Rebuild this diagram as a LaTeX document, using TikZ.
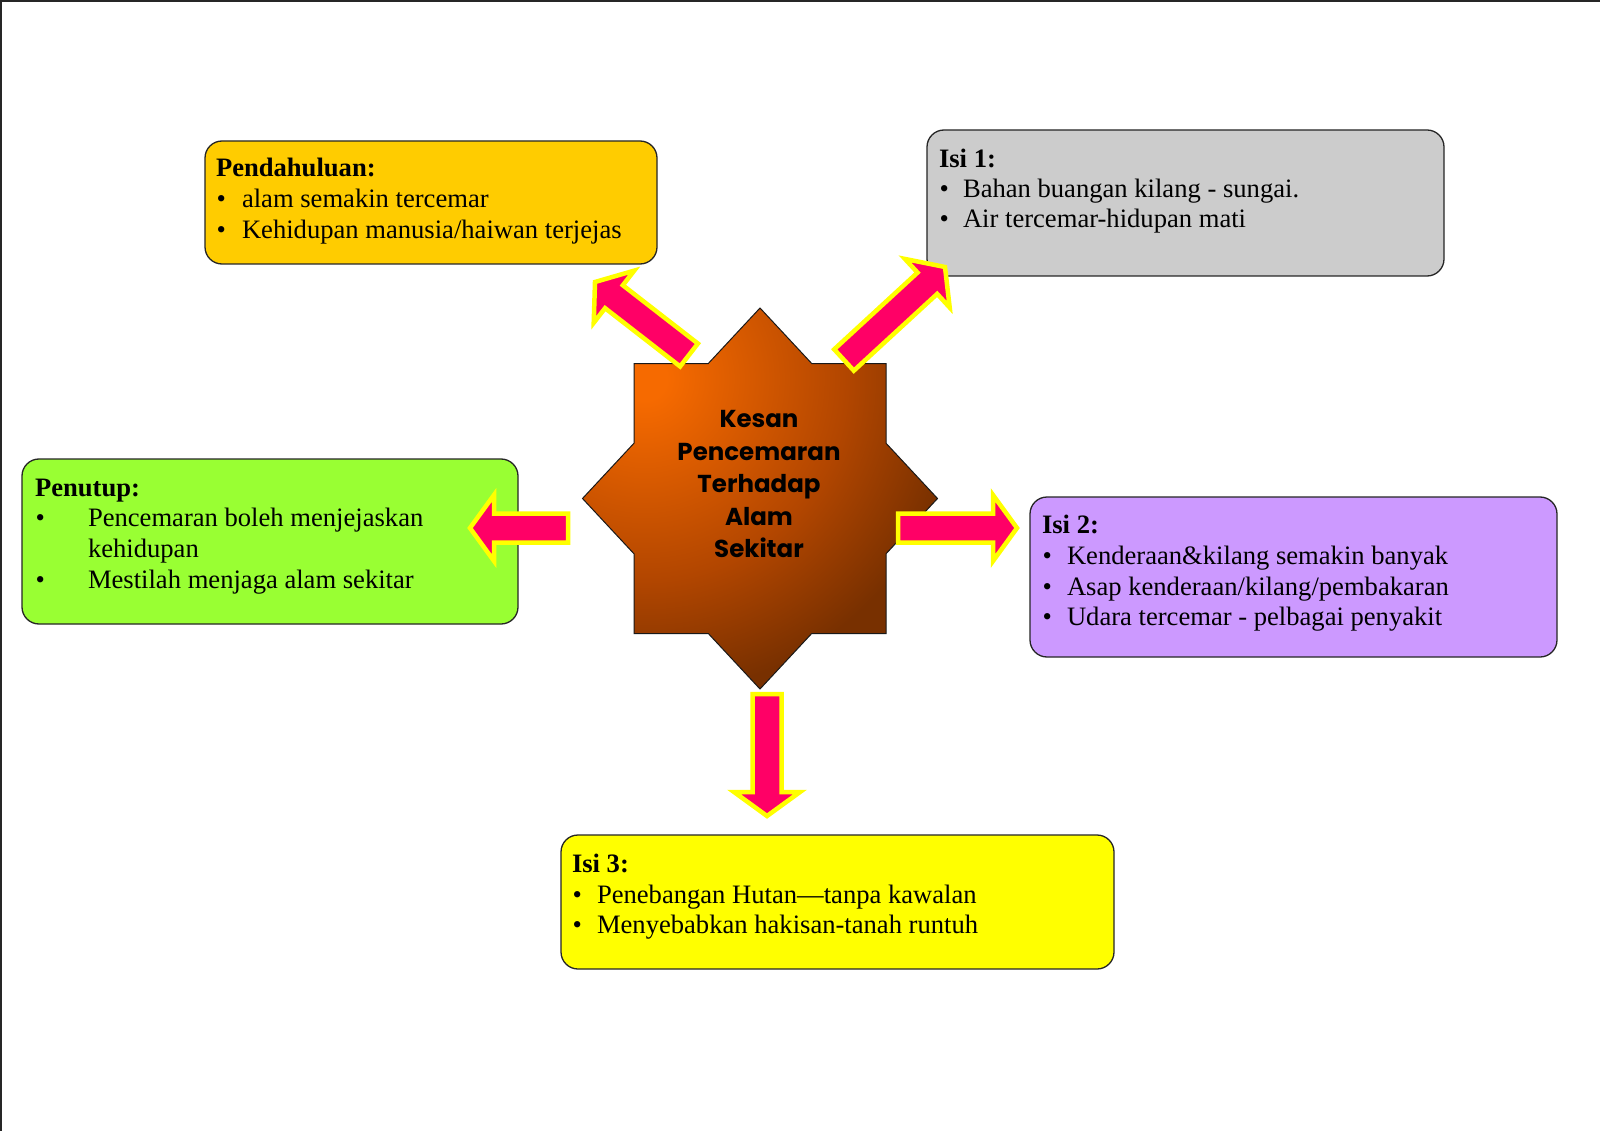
\documentclass[tikz,border=0pt]{standalone}
\usepackage{fontspec}
\setmainfont{Liberation Serif}
\newfontfamily\gothic{Poppins}
\usetikzlibrary{calc}
\definecolor{starA}{RGB}{246,106,0}
\definecolor{starM}{RGB}{178,70,0}
\definecolor{starB}{RGB}{120,48,0}
\definecolor{arrowpink}{RGB}{255,0,102}
\definecolor{arrowedge}{RGB}{255,255,0}
\definecolor{boxPend}{RGB}{255,204,0}
\definecolor{boxIsiA}{RGB}{204,204,204}
\definecolor{boxIsiB}{RGB}{204,153,255}
\definecolor{boxPen}{RGB}{153,255,51}
\definecolor{boxIsiC}{RGB}{255,255,0}
\pgfdeclareradialshading{starshade}{\pgfpointorigin}{color(0bp)=(starA); color(1.5bp)=(starA); color(14bp)=(starM); color(22bp)=(starB); color(50bp)=(starB)}
\tikzset{
  boxnode/.style={draw=black!85, line width=1.3pt, rounded corners=17pt, anchor=north west, inner sep=0pt, outer sep=0pt},
  txt/.style={inner sep=0pt, outer sep=0pt, anchor=base west, font=\fontsize{26.6}{30.6}\selectfont},
  ctxt/.style={inner sep=0pt, outer sep=0pt, anchor=base, font=\gothic\bfseries\fontsize{24.5}{32}\selectfont},
  blockarrow/.style={fill=arrowpink, draw=arrowedge, line width=4.5pt, line join=miter},
  starline/.style={draw=black!90, line width=1pt}
}
\newcommand{\aw}{14.5pt}
\newcommand{\ah}{33pt}
\newcommand{\ahl}{24pt}
\newcommand{\blockarr}[2]{%
  \coordinate (#1-b) at ($(#2)!\ahl!(#1)$);
  \draw[blockarrow] ($(#1)!\aw!90:(#2)$) -- ($(#1-b)!\aw!-90:(#1)$) -- ($(#1-b)!\ah!-90:(#1)$) -- (#2)
    -- ($(#1-b)!\ah!90:(#1)$) -- ($(#1-b)!\aw!90:(#1)$) -- ($(#1)!\aw!-90:(#2)$) -- cycle;}
\newcommand{\starpath}{(0,-190.5) -- (51.7,-135) -- (126,-135) -- (126,-55.3) -- (177.5,0) -- (126,55.3) -- (126,135) -- (51.7,135)
  -- (0,190.5) -- (-51.7,135) -- (-126,135) -- (-126,55.3) -- (-177.5,0) -- (-126,-55.3) -- (-126,-135) -- (-51.7,-135) -- cycle}
\begin{document}
\begin{tikzpicture}[x=1pt,y=-1pt]
\useasboundingbox (0,0) rectangle (1600,1131);
\fill[white] (0,0) rectangle (1600,1131);
\draw[line width=1.6pt, black!85] (0.8,1131) -- (0.8,0.8) -- (1600,0.8);

% boxes
\node[boxnode, fill=boxPend, minimum width=452pt, minimum height=123pt] (pend) at (205,141) {};
\node[boxnode, fill=boxIsiA, minimum width=517pt, minimum height=146pt] (isia) at (927,130) {};
\node[boxnode, fill=boxIsiB, minimum width=527pt, minimum height=160pt] (isib) at (1030,497) {};
\node[boxnode, fill=boxPen, minimum width=496pt, minimum height=165pt] (pen) at (22,459) {};
\node[boxnode, fill=boxIsiC, minimum width=553pt, minimum height=134pt] (isic) at (561,835) {};

% Pendahuluan
\node[txt] (pendT) at (216,177) {\textbf{Pendahuluan:}};
\node[txt] (pendB1) at (216.5,208) {•};
\node[txt] (pendL1) at (242,208) {alam semakin tercemar};
\node[txt] (pendB2) at (216.5,239) {•};
\node[txt] (pendL2) at (242,239) {Kehidupan manusia/haiwan terjejas};

% Isi 1
\node[txt] (isiaT) at (939,168) {\textbf{Isi 1:}};
\node[txt] (isiaB1) at (939.5,198) {•};
\node[txt] (isiaL1) at (963,198) {Bahan buangan kilang - sungai.};
\node[txt] (isiaB2) at (939.5,228) {•};
\node[txt] (isiaL2) at (963,228) {Air tercemar-hidupan mati};

% Isi 2
\node[txt] (isibT) at (1042,533) {\textbf{Isi 2:}};
\node[txt] (isibB1) at (1042.5,564) {•};
\node[txt] (isibL1) at (1067,564) {Kenderaan\&kilang semakin banyak};
\node[txt] (isibB2) at (1042.5,595) {•};
\node[txt] (isibL2) at (1067,595) {Asap kenderaan/kilang/pembakaran};
\node[txt] (isibB3) at (1042.5,625) {•};
\node[txt] (isibL3) at (1067,625) {Udara tercemar - pelbagai penyakit};

% Penutup
\node[txt] (penT) at (35,496) {\textbf{Penutup:}};
\node[txt] (penB1) at (35.5,526) {•};
\node[txt] (penL1) at (88,526) {Pencemaran boleh menjejaskan};
\node[txt] (penL1b) at (88,557) {kehidupan};
\node[txt] (penB2) at (35.5,588) {•};
\node[txt] (penL2) at (88,588) {Mestilah menjaga alam sekitar};

% Isi 3
\node[txt] (isicT) at (572,872) {\textbf{Isi 3:}};
\node[txt] (isicB1) at (572.5,903) {•};
\node[txt] (isicL1) at (597,903) {Penebangan Hutan—tanpa kawalan};
\node[txt] (isicB2) at (572.5,933) {•};
\node[txt] (isicL2) at (597,933) {Menyebabkan hakisan-tanah runtuh};

% star
\begin{scope}[shift={(760,498.5)}]
  \coordinate (star) at (0,0);
  \begin{scope}
    \clip \starpath;
    \shade[shading=starshade] (-115,-120) circle (360);
  \end{scope}
  \draw[starline] \starpath;
\end{scope}
\node[ctxt] (c1) at (759,427) {Kesan};
\node[ctxt] (c2) at (759,460) {Pencemaran};
\node[ctxt] (c3) at (759,492) {Terhadap};
\node[ctxt] (c4) at (759,525) {Alam};
\node[ctxt] (c5) at (759,557) {Sekitar};

% arrows
\coordinate (tUL) at (689,355); \coordinate (pUL) at (595,282);
\coordinate (tUR) at (844,360); \coordinate (pUR) at (945,267);
\coordinate (tR) at (898,528);  \coordinate (pR) at (1017,528);
\coordinate (tL) at (568,528);  \coordinate (pL) at (470,528);
\coordinate (tD) at (767,694);  \coordinate (pD) at (767,816);
\blockarr{tUL}{pUL}
\blockarr{tUR}{pUR}
\blockarr{tR}{pR}
\blockarr{tL}{pL}
\blockarr{tD}{pD}
\end{tikzpicture}
\end{document}
